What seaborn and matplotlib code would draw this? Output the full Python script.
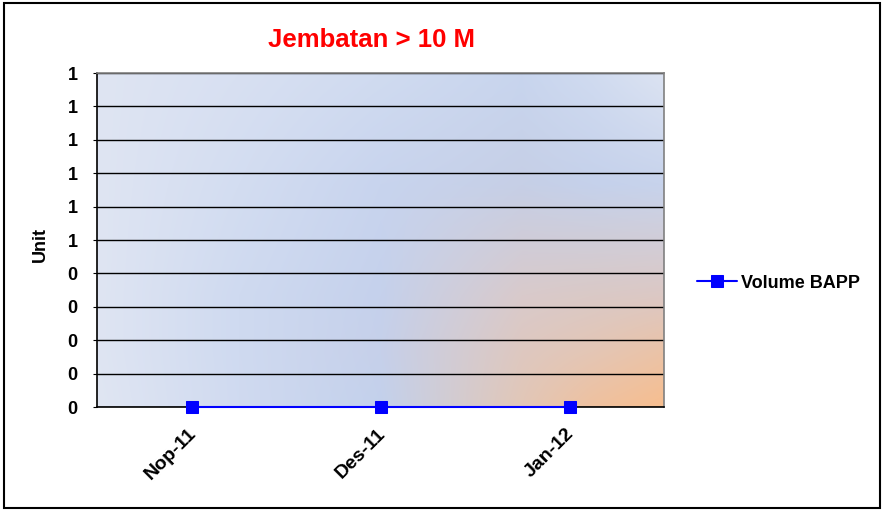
import numpy as np
import matplotlib.pyplot as plt
import seaborn as sns
from matplotlib.colors import to_rgb
from matplotlib.patches import Rectangle
from matplotlib.transforms import ScaledTranslation

# data
months = ["Nop-11", "Des-11", "Jan-12"]
volume = [0, 0, 0]
y_ticks = [0.0, 0.1, 0.2, 0.3, 0.4, 0.5, 0.6, 0.7, 0.8, 0.9, 1.0]
y_tick_labels = ["0", "0", "0", "0", "0", "1", "1", "1", "1", "1", "1"]

sns.set_style("white")
plt.rcParams['font.family'] = ['Liberation Sans', 'DejaVu Sans']
plt.rcParams['font.weight'] = 'bold'
plt.rcParams['text.color'] = 'black'

fig = plt.figure(figsize=(8.84, 5.11), dpi=100)
rect = [97 / 884, 1 - 407 / 511, 567 / 884, 334 / 511]

# plot area fill: colours picked on a coarse grid (top row first), then smoothed
grid_u = [0, 0.25, 0.5, 0.75, 0.875, 1]
grid_v = [0, 0.333, 0.667, 0.835, 1]
bg_grid = [
    ["#DFE5F3", "#D8E0F2", "#D0DBF0", "#C8D5EE", "#D0DBF0", "#DCE3F2"],
    ["#DFE5F3", "#D3DDF1", "#C8D4EE", "#C6CFE6", "#C5D1EB", "#C7D3EC"],
    ["#DFE5F3", "#CFDAF0", "#C5D1EC", "#D9CACB", "#DAC9C6", "#DCC8C4"],
    ["#DFE5F3", "#CFDAF0", "#C6D0EA", "#DEC8C0", "#E4C6B5", "#EBC3A7"],
    ["#E0E6F3", "#D0DAF0", "#C3D1EC", "#E2C7B7", "#EFC19F", "#F7BE8F"],
]
grid = np.array([[to_rgb(c) for c in row] for row in bg_grid])
w, h = 567, 334
pu = np.linspace(0, 1, w)
pv = np.linspace(0, 1, h)
rows = np.array([[np.interp(pu, grid_u, grid[i, :, c]) for c in range(3)]
                 for i in range(len(grid_v))])
img = np.zeros((h, w, 3))
for c in range(3):
    for j in range(w):
        img[:, j, c] = np.interp(pv, grid_v, rows[:, c, j])

bg = fig.add_axes(rect, zorder=0)
bg.imshow(img, aspect='auto', interpolation='bilinear')
bg.axis('off')

ax = fig.add_axes(rect, zorder=1)
ax.set_facecolor('none')

sns.lineplot(x=months, y=volume, marker='s', color='#0000FF', markersize=9,
             markeredgecolor='#0000FF', linewidth=1.5, label='Volume BAPP',
             sort=False, ax=ax, clip_on=False, zorder=5)

ax.set_xlim(-0.5, 2.5)
ax.set_ylim(0, 1)
ax.set_yticks(y_ticks)
ax.set_yticklabels(y_tick_labels, fontsize=13, fontweight='bold')
ax.set_xticks(range(len(months)))
ax.set_xticklabels(months, rotation=45, ha='right', rotation_mode='anchor',
                   fontsize=14, fontweight='bold')
ax.tick_params(axis='x', length=0, pad=13, labelcolor='black')
ax.tick_params(axis='y', length=3, left=True, direction='out', pad=11,
               labelcolor='black', color='black')
shift = ScaledTranslation(-4 / 100, 0, fig.dpi_scale_trans)
for lab in ax.get_xticklabels():
    lab.set_transform(lab.get_transform() + shift)
ax.yaxis.grid(True, color='black', linewidth=1)
ax.set_axisbelow(True)
ax.set_xlabel('')
ax.set_ylabel('')

for s in ['left', 'bottom']:
    ax.spines[s].set_color('black')
    ax.spines[s].set_linewidth(1.2)
for s in ['top', 'right']:
    ax.spines[s].set_color('#808080')
    ax.spines[s].set_linewidth(1.2)

ax.get_legend().remove()
handles, labels = ax.get_legend_handles_labels()
fig.legend(handles, labels, loc='center left', bbox_to_anchor=(681 / 884, 1 - 283 / 511),
           frameon=False, handlelength=2.2, handletextpad=0.2,
           prop={'size': 13, 'weight': 'bold'}, labelcolor='black')

fig.text(371 / 884, 1 - 40 / 511, 'Jembatan > 10 M', color='#FF0000', fontsize=18.5,
         fontweight='bold', ha='center', va='center')
fig.text(40 / 884, 1 - 245 / 511, 'Unit', rotation=90, fontsize=13,
         fontweight='bold', ha='center', va='center', color='black')

fig.add_artist(Rectangle((4 / 884, 3 / 511), 876 / 884, 505 / 511, transform=fig.transFigure,
                         fill=False, edgecolor='black', linewidth=1.5))

fig.savefig('out.png', dpi=100)
